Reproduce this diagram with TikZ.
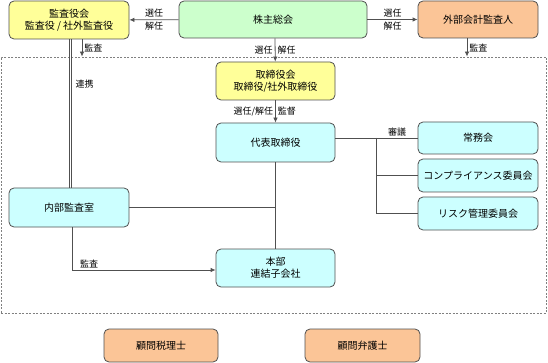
\documentclass[tikz,border=0pt]{standalone}
\usepackage{fontspec}
\setmainfont{Noto Sans CJK JP}
\usetikzlibrary{arrows.meta}

\definecolor{boxline}{HTML}{505050}
\definecolor{fillyellow}{HTML}{FFFF99}
\definecolor{fillgreen}{HTML}{CCFFCC}
\definecolor{fillorange}{HTML}{FBC597}
\definecolor{fillcyan}{HTML}{CCFFFF}

\begin{document}
\begin{tikzpicture}[x=1pt, y=1pt, >={Latex[length=5pt,width=4.5pt]},
        box/.style={draw=boxline, rectangle, rounded corners=5pt, line width=0.8pt,
            align=center, inner sep=0pt, font=\fontsize{10}{12}\selectfont},
        lbl/.style={inner sep=2pt, font=\fontsize{9}{10}\selectfont},
        conn/.style={draw=boxline, line width=0.8pt}]
        \useasboundingbox (0,0) rectangle (548,-363);

        % dashed frame round the company
        \node[draw=gray, dash pattern=on 2pt off 1.5pt, line width=0.8pt, rectangle,
            minimum width=545pt, minimum height=256pt] (company) at (273.5,-185) {};

        \node[box, fill=fillyellow, minimum width=120pt, minimum height=38pt] (auditboard) at (69,-20) {監査役会\\監査役 / 社外監査役};
        \node[box, fill=fillgreen, minimum width=188pt, minimum height=37pt] (shareholders) at (273,-19.5) {株主総会};
        \node[box, fill=fillorange, minimum width=120pt, minimum height=37pt] (accountant) at (478,-19.5) {外部会計監査人};

        \node[box, fill=fillyellow, minimum width=119pt, minimum height=38pt] (board) at (275.5,-81) {取締役会\\取締役/社外取締役};
        \node[box, fill=fillcyan, minimum width=119pt, minimum height=39pt] (president) at (275.5,-142.5) {代表取締役};
        \node[box, fill=fillcyan, minimum width=120pt, minimum height=32pt] (executive) at (478,-138) {常務会};
        \node[box, fill=fillcyan, minimum width=120pt, minimum height=33pt] (compliance) at (478,-175.5) {コンプライアンス委員会};
        \node[box, fill=fillcyan, minimum width=120pt, minimum height=33pt] (risk) at (478,-213.5) {リスク管理委員会};
        \node[box, fill=fillcyan, minimum width=120pt, minimum height=39pt] (internalaudit) at (69,-207.5) {内部監査室};
        \node[box, fill=fillcyan, minimum width=119pt, minimum height=38pt] (headoffice) at (275.5,-268) {本部\\連結子会社};

        \node[box, fill=fillorange, minimum width=114pt, minimum height=33pt] (taxadvisor) at (161,-345.5) {顧問税理士};
        \node[box, fill=fillorange, minimum width=115pt, minimum height=33pt] (lawyer) at (362.5,-345.5) {顧問弁護士};

        % shareholders
        \draw[conn, ->] (shareholders) -- node[lbl, above] {選任} node[lbl, below] {解任} (auditboard);
        \draw[conn, ->] (shareholders) -- node[lbl, above] {選任} node[lbl, below] {解任} (accountant);
        \draw[conn, ->] ([xshift=2pt]shareholders.south) -- node[lbl, left] {選任} node[lbl, right] {解任} (board);

        % audits from outside the frame
        \draw[conn, ->] ([xshift=13pt]auditboard.south) -- node[lbl, right] {監査} ([xshift=13pt]auditboard.south |- company.north);
        \draw[conn, ->] ([xshift=-11pt]accountant.south) -- node[lbl, right] {監査} ([xshift=-11pt]accountant.south |- company.north);
        % double line for 連携
        \draw[conn] (auditboard.south) -- (internalaudit.north);
        \draw[conn] ([xshift=2.2pt]auditboard.south) -- node[lbl, right, pos=0.3, xshift=2pt] {連携} ([xshift=2.2pt]internalaudit.north);

        % inside the company
        \draw[conn, ->] (board) -- node[lbl, left] {選任/解任} node[lbl, right] {監督} (president);
        \draw[conn] (president.east |- executive.west) -- coordinate[pos=0.5] (branch) (executive.west);
        \path (branch) -- node[lbl, above] {審議} (executive.west);
        \draw[conn] (branch) |- (compliance.west);
        \draw[conn] (branch) |- (risk.west);
        \draw[conn] (president) -- (headoffice);
        \draw[conn] (internalaudit.east) -- (internalaudit.east -| president.south);
        \draw[conn, ->] ([xshift=3pt]internalaudit.south) |- node[lbl, above right, pos=0.52] {監査} ([yshift=-2pt]headoffice.west);
    \end{tikzpicture}
\end{document}
